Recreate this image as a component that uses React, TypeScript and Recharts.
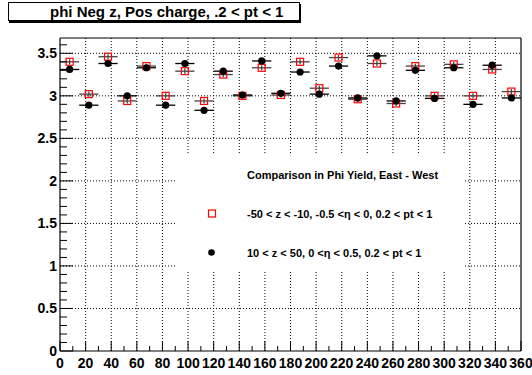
import {
  ComposedChart,
  Scatter,
  XAxis,
  YAxis,
  CartesianGrid,
  ErrorBar,
  ReferenceLine,
} from "recharts";

// phi bin centres (15 degree bins)
const PHI_BINS = [
  7.5, 22.5, 37.5, 52.5, 67.5, 82.5, 97.5, 112.5, 127.5, 142.5, 157.5, 172.5,
  187.5, 202.5, 217.5, 232.5, 247.5, 262.5, 277.5, 292.5, 307.5, 322.5, 337.5,
  352.5,
];
const BIN_HALF = [
  7.5, 7.5, 7.5, 7.5, 7.5, 7.5, 7.5, 7.5, 7.5, 7.5, 7.5, 7.5, 7.5, 7.5, 7.5,
  7.5, 7.5, 7.5, 7.5, 7.5, 7.5, 7.5, 7.5, 7.5,
];

// -50 < z < -10 (red open squares)
const EAST_YIELD = [
  3.4, 3.02, 3.46, 2.94, 3.35, 3.0, 3.29, 2.94, 3.25, 3.0, 3.33, 3.01, 3.4,
  3.09, 3.45, 2.96, 3.38, 2.91, 3.35, 3.0, 3.37, 3.0, 3.31, 3.05,
];
const EAST_ERR = [
  0.03, 0.03, 0.03, 0.03, 0.03, 0.03, 0.03, 0.03, 0.03, 0.03, 0.03, 0.03,
  0.03, 0.03, 0.03, 0.03, 0.03, 0.03, 0.03, 0.03, 0.03, 0.03, 0.03, 0.03,
];

// 10 < z < 50 (black dots)
const WEST_YIELD = [
  3.31, 2.89, 3.38, 3.0, 3.33, 2.89, 3.38, 2.83, 3.29, 3.01, 3.41, 3.03, 3.28,
  3.02, 3.35, 2.975, 3.47, 2.94, 3.3, 2.97, 3.33, 2.9, 3.36, 2.975,
];
const WEST_ERR = [
  0.03, 0.03, 0.03, 0.03, 0.03, 0.03, 0.03, 0.03, 0.03, 0.03, 0.03, 0.03,
  0.03, 0.03, 0.03, 0.03, 0.03, 0.03, 0.03, 0.03, 0.03, 0.03, 0.03, 0.03,
];

const X_MAJOR = [
  0, 20, 40, 60, 80, 100, 120, 140, 160, 180, 200, 220, 240, 260, 280, 300,
  320, 340, 360,
];
const Y_MAJOR = [0, 0.5, 1, 1.5, 2, 2.5, 3, 3.5];
const X_MAX = 360;
const Y_MAX = 3.68;

const X_TICKS = Array.from({ length: 37 }, (_, i) => i * 10);
const Y_TICKS = Array.from({ length: 37 }, (_, i) => Math.round(i) / 10);

const FONT = "'Liberation Sans', Arial, Helvetica, sans-serif";

const eastData = PHI_BINS.map((phi, i) => ({
  phi,
  y: EAST_YIELD[i],
  xErr: BIN_HALF[i],
  yErr: EAST_ERR[i],
}));
const westData = PHI_BINS.map((phi, i) => ({
  phi,
  y: WEST_YIELD[i],
  xErr: BIN_HALF[i],
  yErr: WEST_ERR[i],
}));

function XTick(props: any) {
  const { x, y, payload } = props;
  const v = payload.value;
  const major = v % 20 === 0;
  return (
    <g>
      <line x1={x} x2={x} y1={y} y2={y - (major ? 10 : 5)} stroke="#000" />
      {major && (
        <text
          x={x}
          y={y + 17}
          textAnchor="middle"
          fontSize={14}
          fontWeight="bold"
          fontFamily={FONT}
          fill="#000"
        >
          {v}
        </text>
      )}
    </g>
  );
}

function YTick(props: any) {
  const { x, y, payload } = props;
  const v = payload.value;
  const major = Math.abs(v * 2 - Math.round(v * 2)) < 1e-6;
  return (
    <g>
      <line x1={x} x2={x + (major ? 13 : 7)} y1={y} y2={y} stroke="#000" />
      {major && (
        <text
          x={x - 3}
          y={y + 5}
          textAnchor="end"
          fontSize={14}
          fontWeight="bold"
          fontFamily={FONT}
          fill="#000"
        >
          {v}
        </text>
      )}
    </g>
  );
}

const OpenSquare = (props: any) => {
  const { cx, cy } = props;
  return (
    <rect
      x={cx - 3.5}
      y={cy - 3.5}
      width={7}
      height={7}
      fill="none"
      stroke="#ff0000"
      strokeWidth={1.2}
    />
  );
};

const FullCircle = (props: any) => {
  const { cx, cy } = props;
  return <circle cx={cx} cy={cy} r={3.6} fill="#000" />;
};

export default function App() {
  return (
    <div
      style={{
        position: "absolute",
        left: 0,
        top: 0,
        width: 532,
        height: 375,
        background: "#fff",
        fontFamily: FONT,
      }}
    >
      <ComposedChart
        width={532}
        height={375}
        margin={{ top: 38, right: 11, bottom: 0, left: 0 }}
      >
        <CartesianGrid
          stroke="#000"
          strokeDasharray="1 2"
          verticalValues={X_MAJOR.filter((v) => v > 0 && v < X_MAX)}
          horizontalValues={Y_MAJOR.filter((v) => v > 0)}
        />
        <XAxis
          dataKey="phi"
          type="number"
          domain={[0, X_MAX]}
          ticks={X_TICKS}
          interval={0}
          height={24}
          tickSize={0}
          tickMargin={0}
          tickLine={false}
          tick={<XTick />}
          axisLine={{ stroke: "#000", strokeWidth: 1.2 }}
        />
        <YAxis
          dataKey="y"
          type="number"
          domain={[0, Y_MAX]}
          ticks={Y_TICKS}
          interval={0}
          width={60}
          tickSize={0}
          tickMargin={0}
          tickLine={false}
          tick={<YTick />}
          axisLine={{ stroke: "#000", strokeWidth: 1.2 }}
        />
        <ReferenceLine y={Y_MAX} stroke="#000" strokeWidth={1.2} />
        <ReferenceLine x={X_MAX} stroke="#000" strokeWidth={1.2} />
        <Scatter
          data={eastData}
          dataKey="y"
          shape={<OpenSquare />}
          isAnimationActive={false}
        >
          <ErrorBar dataKey="xErr" direction="x" width={0} stroke="#444" strokeWidth={1.3} />
          <ErrorBar dataKey="yErr" direction="y" width={0} stroke="#444" strokeWidth={1.3} />
        </Scatter>
        <Scatter
          data={westData}
          dataKey="y"
          shape={<FullCircle />}
          isAnimationActive={false}
        >
          <ErrorBar dataKey="xErr" direction="x" width={0} stroke="#000" strokeWidth={1.3} />
          <ErrorBar dataKey="yErr" direction="y" width={0} stroke="#000" strokeWidth={1.3} />
        </Scatter>
      </ComposedChart>

      <div
        style={{
          position: "absolute",
          left: 8,
          top: 2,
          width: 290,
          height: 17,
          border: "1px solid #000",
          boxShadow: "1px 2px 0 #000",
          background: "#fff",
        }}
      >
        <div
          style={{
            position: "absolute",
            left: 41,
            top: 0,
            fontSize: 15,
            fontWeight: "bold",
            lineHeight: "17px",
            whiteSpace: "nowrap",
          }}
        >
          phi Neg z, Pos charge, .2 &lt; pt &lt; 1
        </div>
      </div>

      <svg
        style={{ position: "absolute", left: 175, top: 155 }}
        width={290}
        height={117}
      >
        <rect x={0} y={0} width={290} height={117} fill="#fff" />
        <text x={72} y={23.5} fontSize={11} fontWeight="bold" fontFamily={FONT}>
          Comparison in Phi Yield, East - West
        </text>
        <rect
          x={33.5}
          y={55}
          width={7}
          height={7}
          fill="none"
          stroke="#ff0000"
          strokeWidth={1.2}
        />
        <text x={72} y={62.5} fontSize={11} fontWeight="bold" fontFamily={FONT}>
          -50 &lt; z &lt; -10, -0.5 &lt;η &lt; 0, 0.2 &lt; pt &lt; 1
        </text>
        <circle cx={36.5} cy={97.5} r={3.3} fill="#000" />
        <text x={72} y={101.5} fontSize={11} fontWeight="bold" fontFamily={FONT}>
          10 &lt; z &lt; 50, 0 &lt;η &lt; 0.5, 0.2 &lt; pt &lt; 1
        </text>
      </svg>
    </div>
  );
}
